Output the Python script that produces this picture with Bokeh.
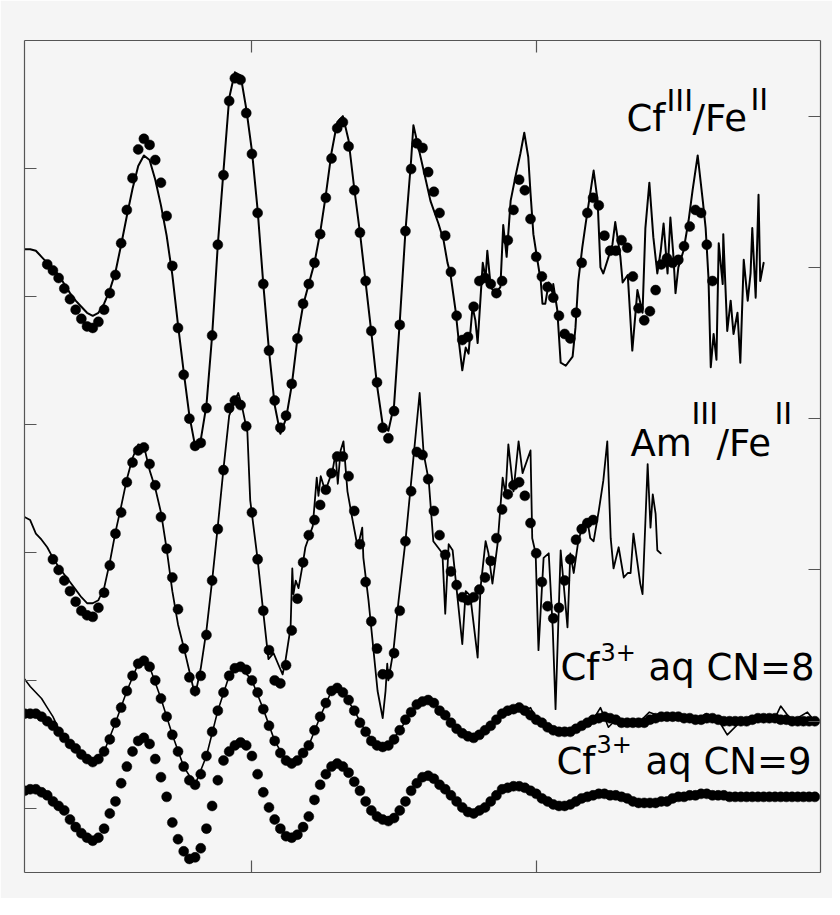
import numpy as np
from bokeh.plotting import figure
from bokeh.models import Range1d, LinearAxis, FixedTicker, Label
from bokeh.embed import file_html
from bokeh.resources import INLINE

# ---------------- data (k in 1/Angstrom, chi*k^3 in arbitrary units) ----------------
K_STEP = 0.1

# Cf(III)/Fe(II): fit (dots) sampled from k = 1.4
CF_FIT_K0 = 1.4
CF_FIT = [0.02, -0.02, -0.07, -0.14, -0.21, -0.28, -0.34, -0.39, -0.40, -0.36,
          -0.28, -0.17, -0.05, 0.16, 0.38, 0.59, 0.78, 0.85, 0.81, 0.71,
          0.56, 0.34, 0.01, -0.40, -0.71, -1.00, -1.18, -1.16, -0.93, -0.45,
          0.15, 0.61, 1.10, 1.25, 1.24, 1.02, 0.75, 0.36, -0.11, -0.55,
          -0.88, -1.06, -0.98, -0.77, -0.47, -0.24, -0.11, 0.03, 0.22, 0.46,
          0.72, 0.92, 0.96, 0.80, 0.51, 0.23, -0.09, -0.42, -0.76, -1.06,
          -1.13, -0.95, -0.38, 0.24, 0.65, 0.82, 0.79, 0.63, 0.50, 0.36,
          0.21, -0.03, -0.32, -0.48, -0.46, -0.26, -0.09, -0.07, -0.11, -0.17,
          -0.09, 0.18, 0.38, 0.58, 0.51, 0.32, 0.07, -0.06, -0.13, -0.20,
          -0.32, -0.44, -0.47, -0.30, 0.03, 0.36, 0.46, 0.41, 0.21, 0.11,
          0.11, 0.18, 0.13, -0.06, -0.27, -0.35, -0.29, -0.15, 0.02, 0.06,
          0.03, 0.05, 0.14, 0.27, 0.38, 0.36, 0.15, -0.09]

# Cf(III)/Fe(II): measured data, smooth part from k = 1.0
CF_DATA_K0 = 1.0
CF_DATA_SMOOTH = [0.12, 0.12, 0.11, 0.07, 0.03, -0.01, -0.05, -0.11, -0.17, -0.22,
                  -0.26, -0.30, -0.32, -0.30, -0.24, -0.15, -0.03, 0.15, 0.34, 0.52,
                  0.67, 0.74, 0.71, 0.58, 0.41, 0.21, -0.05, -0.38, -0.69, -0.98,
                  -1.18, -1.14, -0.91, -0.45, 0.15, 0.64, 1.12, 1.29, 1.27, 1.05,
                  0.77, 0.38, -0.11, -0.55, -0.91, -1.10, -1.00, -0.78, -0.47, -0.25,
                  -0.11, 0.03, 0.23, 0.48, 0.76, 0.96, 1.00, 0.84, 0.52, 0.23,
                  -0.10, -0.43, -0.78, -1.04, -1.08, -0.91, -0.36, 0.24, 0.71]
CF_DATA_NOISY_K = [7.84, 7.93, 8.02, 8.14, 8.28, 8.37, 8.44, 8.49, 8.58, 8.63,
                   8.70, 8.76, 8.81, 8.88, 8.93, 8.97, 9.06, 9.11, 9.14, 9.20,
                   9.28, 9.37, 9.42, 9.48, 9.55, 9.64, 9.72, 9.79, 9.86, 9.90,
                   9.95, 10.02, 10.08, 10.11, 10.16, 10.22, 10.29, 10.30, 10.37, 10.43,
                   10.52, 10.64, 10.69, 10.74, 10.81, 10.87, 11.01, 11.08, 11.13, 11.18,
                   11.34, 11.39, 11.48, 11.52, 11.61, 11.69, 11.78, 11.87, 11.92, 11.99,
                   12.06, 12.13, 12.19, 12.24, 12.31, 12.36, 12.41, 12.45, 12.50, 12.59,
                   12.68, 12.75, 12.84, 12.93, 12.98, 13.03, 13.07, 13.12, 13.17, 13.21,
                   13.28, 13.29, 13.36, 13.42, 13.47, 13.54, 13.59, 13.65, 13.72, 13.77,
                   13.80, 13.86, 13.91, 13.94, 14.00]
CF_DATA_NOISY = [0.94, 0.79, 0.64, 0.44, 0.29, 0.18, 0.03, -0.04, -0.28, -0.46,
                 -0.68, -0.53, -0.57, -0.26, -0.35, -0.50, 0.03, -0.07, 0.11, -0.13,
                 -0.17, -0.13, 0.28, 0.07, 0.44, 0.61, 0.75, 0.89, 0.73, 0.49,
                 0.22, 0.05, -0.09, -0.24, -0.24, -0.10, -0.17, -0.11, -0.28, -0.63,
                 -0.65, -0.59, -0.40, -0.09, 0.13, 0.29, 0.64, 0.44, 0.00, -0.04,
                 0.15, 0.30, 0.07, -0.10, -0.05, -0.55, -0.15, -0.30, 0.26, 0.56,
                 0.20, -0.04, 0.11, 0.29, -0.04, 0.33, 0.09, -0.17, 0.00, 0.11,
                 0.31, 0.51, 0.74, 0.44, 0.26, -0.07, -0.66, -0.44, -0.61, 0.16,
                 -0.11, 0.22, -0.42, -0.22, -0.44, -0.30, -0.63, 0.05, -0.22, -0.04,
                 0.26, -0.20, 0.48, -0.09, 0.03]

# Am(III)/Fe(II): fit from k = 1.5
AM_FIT_K0 = 1.5
AM_FIT = [-0.13, -0.20, -0.27, -0.34, -0.41, -0.47, -0.50, -0.51, -0.45, -0.35,
          -0.17, 0.04, 0.18, 0.38, 0.51, 0.59, 0.61, 0.50, 0.36, 0.15,
          -0.06, -0.25, -0.46, -0.72, -0.91, -1.00, -0.90, -0.63, -0.27, 0.07,
          0.46, 0.87, 0.92, 0.89, 0.75, 0.18, -0.13, -0.47, -0.73, -0.93,
          -0.95, -0.83, -0.60, -0.39, -0.15, 0.03, 0.13, 0.23, 0.33, 0.44,
          0.55, 0.55, 0.42, 0.19, -0.03, -0.28, -0.54, -0.72, -0.89, -0.89,
          -0.75, -0.47, -0.01, 0.32, 0.58, 0.56, 0.40, 0.19, 0.03, -0.10,
          -0.21, -0.30, -0.38, -0.40, -0.38, -0.33, -0.25, -0.14, 0.01, 0.20,
          0.30, 0.36, 0.38, 0.29, 0.11, -0.09, -0.28, -0.44, -0.52, -0.45,
          -0.27, -0.13, 0.00, 0.07, 0.11, 0.13]

# Am(III)/Fe(II): data
AM_DATA_K0 = 1.0
AM_DATA_SMOOTH = [0.15, 0.13, 0.04, 0.00, -0.05, -0.12, -0.18, -0.23, -0.28, -0.33,
                  -0.38, -0.42, -0.42, -0.40, -0.32, -0.15, 0.05, 0.22, 0.40, 0.54,
                  0.63, 0.62, 0.46, 0.34, 0.18, -0.06, -0.34, -0.56, -0.71, -0.87,
                  -1.03, -0.85, -0.60, -0.27, 0.09, 0.47, 0.82, 0.92]
AM_DATA_NOISY_K = [4.76, 4.82, 4.92, 4.97, 5.10, 5.20, 5.29, 5.38, 5.47, 5.54,
                   5.59, 5.68, 5.71, 5.73, 5.77, 5.82, 5.89, 5.94, 6.07, 6.14,
                   6.17, 6.21, 6.29, 6.42, 6.47, 6.51, 6.56, 6.61, 6.68, 6.77,
                   6.86, 6.94, 6.96, 7.05, 7.17, 7.21, 7.30, 7.35, 7.38, 7.40,
                   7.49, 7.58, 7.70, 7.82, 7.95, 8.02, 8.11, 8.19, 8.35, 8.40,
                   8.46, 8.53, 8.70, 8.76, 8.84, 8.97, 9.02, 9.11, 9.16, 9.23,
                   9.32, 9.41, 9.46, 9.51, 9.60, 9.69, 9.76, 9.90, 9.93, 9.99,
                   10.04, 10.13, 10.22, 10.29, 10.34, 10.43, 10.55, 10.60, 10.66, 10.74,
                   10.83, 10.90, 10.95, 11.01, 11.10, 11.18, 11.25, 11.31, 11.36, 11.45,
                   11.54, 11.61, 11.66, 11.71, 11.83, 11.87, 11.96, 12.01, 12.05, 12.10,
                   12.13, 12.19]
AM_DATA_NOISY = [0.97, 0.89, 0.71, 0.26, -0.13, -0.48, -0.79, -0.75, -0.83, -0.89,
                 -0.80, -0.58, -0.19, -0.36, -0.27, -0.32, -0.17, -0.05, 0.09, 0.41,
                 0.29, 0.42, 0.32, 0.46, 0.57, 0.37, 0.59, 0.65, 0.32, 0.13,
                 -0.05, 0.08, -0.12, -0.40, -0.85, -1.00, -1.18, -1.00, -0.82, -0.93,
                 -0.73, -0.40, -0.01, 0.46, 0.97, 0.57, 0.39, -0.01, -0.09, -0.49,
                 -0.03, -0.07, -0.69, -0.34, -0.37, -0.78, -0.32, -0.01, -0.09, -0.29,
                 -0.03, 0.41, 0.30, 0.63, 0.32, 0.65, 0.44, 0.59, 0.01, -0.09,
                 -0.73, -0.12, -0.09, -0.58, -1.12, -0.07, -0.58, -0.09, -0.22, -0.01,
                 0.11, 0.13, 0.01, -0.01, 0.19, 0.39, 0.65, 0.01, -0.19, -0.05,
                 -0.25, -0.22, -0.22, 0.04, -0.29, -0.36, 0.50, 0.08, 0.30, 0.17,
                 -0.07, -0.09]

# Cf3+ aq CN=8: model (dots) from k = 1.0, and data line
CN8_FIT_K0 = 1.0
CN8_FIT = [0.05, 0.05, 0.05, 0.03, 0.00, -0.03, -0.07, -0.11, -0.15, -0.18,
           -0.22, -0.25, -0.27, -0.25, -0.20, -0.12, -0.01, 0.09, 0.20, 0.30,
           0.38, 0.40, 0.36, 0.27, 0.15, 0.03, -0.09, -0.20, -0.30, -0.39,
           -0.42, -0.35, -0.23, -0.07, 0.07, 0.19, 0.30, 0.35, 0.36, 0.34,
           0.27, 0.19, 0.08, -0.03, -0.13, -0.21, -0.26, -0.28, -0.26, -0.21,
           -0.16, -0.06, 0.03, 0.12, 0.20, 0.22, 0.19, 0.14, 0.07, -0.01,
           -0.07, -0.13, -0.16, -0.17, -0.16, -0.12, -0.06, 0.01, 0.06, 0.11,
           0.13, 0.14, 0.12, 0.07, 0.04, -0.01, -0.05, -0.08, -0.10, -0.11,
           -0.09, -0.06, -0.03, 0.01, 0.05, 0.07, 0.08, 0.09, 0.07, 0.04,
           0.01, -0.01, -0.04, -0.06, -0.07, -0.07, -0.07, -0.05, -0.03, -0.01,
           0.01, 0.02, 0.03, 0.02, 0.01, -0.01, -0.01, -0.01, -0.01, -0.01,
           0.01, 0.02, 0.03, 0.03, 0.03, 0.03, 0.02, 0.02, 0.01, 0.01,
           0.02, 0.02, 0.01, 0.00, 0.00, 0.00, 0.00, 0.00, 0.01, 0.02,
           0.02, 0.02, 0.02, 0.01, 0.01, 0.00, 0.00, 0.00, 0.00, 0.00]
CN8_DATA_K = [1.0, 1.1, 1.2, 1.3, 1.4, 1.5, 1.6, 1.8, 2.0, 2.2, 2.4, 2.6, 2.8, 3.0, 3.1, 3.2, 3.4,
              3.6, 3.8, 4.0, 4.2, 4.4, 4.6, 4.8, 5.0, 5.2, 5.4, 5.6, 5.8, 6.0, 6.2, 6.4, 6.6, 6.8,
              7.0, 7.2, 7.4, 7.6, 7.8, 8.0, 8.2, 8.4, 8.6, 8.8, 9.0, 9.2, 9.4, 9.6, 9.8, 9.90, 10.0,
              10.2, 10.4, 10.6, 10.8, 11.0, 11.13, 11.27, 11.4, 11.6, 11.8, 11.99, 12.2, 12.4, 12.6,
              12.8, 12.99, 13.2, 13.36, 13.6, 13.8, 14.0, 14.2, 14.30, 14.5, 14.77, 14.9]
CN8_DATA = [0.28, 0.23, 0.19, 0.15, 0.09, 0.03, -0.05, -0.15, -0.22, -0.27, -0.20, -0.01, 0.20,
            0.38, 0.40, 0.36, 0.15, -0.09, -0.30, -0.42, -0.23, 0.07, 0.30, 0.36, 0.27, 0.08,
            -0.13, -0.26, -0.26, -0.16, 0.03, 0.20, 0.19, 0.07, -0.07, -0.16, -0.16, -0.06, 0.06,
            0.13, 0.12, 0.04, -0.05, -0.10, -0.09, -0.03, 0.05, 0.08, 0.07, 0.09, 0.01, -0.04,
            -0.07, -0.07, -0.03, 0.01, 0.09, -0.04, 0.01, -0.01, -0.01, 0.06, 0.03, 0.03, 0.02,
            0.01, 0.05, 0.01, -0.09, 0.00, 0.01, 0.02, 0.02, 0.10, 0.00, 0.06, 0.00]

# Cf3+ aq CN=9: model (dots) from k = 1.0
CN9_FIT_K0 = 1.0
CN9_FIT = [0.04, 0.05, 0.05, 0.03, 0.01, -0.03, -0.06, -0.09, -0.15, -0.20,
           -0.24, -0.27, -0.29, -0.27, -0.21, -0.11, -0.03, 0.09, 0.20, 0.30,
           0.37, 0.39, 0.35, 0.25, 0.13, 0.00, -0.17, -0.28, -0.36, -0.41,
           -0.40, -0.34, -0.21, -0.06, 0.11, 0.24, 0.30, 0.34, 0.36, 0.34,
           0.27, 0.15, 0.03, -0.07, -0.15, -0.21, -0.26, -0.27, -0.25, -0.20,
           -0.13, -0.02, 0.08, 0.15, 0.20, 0.22, 0.20, 0.16, 0.10, 0.04,
           -0.03, -0.09, -0.13, -0.15, -0.16, -0.14, -0.09, -0.03, 0.04, 0.09,
           0.13, 0.14, 0.12, 0.08, 0.05, 0.01, -0.03, -0.07, -0.10, -0.11,
           -0.09, -0.07, -0.03, 0.01, 0.05, 0.06, 0.07, 0.07, 0.06, 0.04,
           0.02, -0.01, -0.03, -0.05, -0.06, -0.06, -0.05, -0.03, -0.01, 0.00,
           0.01, 0.02, 0.02, 0.01, 0.01, 0.00, -0.01, -0.03, -0.04, -0.04,
           -0.04, -0.04, -0.03, -0.03, -0.01, 0.00, 0.00, 0.01, 0.01, 0.02,
           0.02, 0.01, 0.01, 0.01, 0.00, 0.00, 0.00, 0.00, 0.00, 0.00,
           0.00, 0.00, 0.00, 0.00, 0.00, 0.00, 0.00, 0.00, 0.00, 0.00]

# vertical offsets of the stacked traces
OFFSETS = {"cf": 3.0, "am": 1.2, "cn8": 0.0, "cn9": -0.5}

X_TICKS = [5, 10]
LEFT_TICKS = [1, 2, 3, 4, 5, 6]
RIGHT_TICKS = [0, 1, 2, 3, 4]


def grid(k0, n):
    return np.round(k0 + K_STEP * np.arange(n), 3)


# ---------------- figure ----------------
BG = "#f5f5f5"
AX = "#555555"

p = figure(width=832, height=898, output_backend="svg", toolbar_location=None,
           x_range=Range1d(1, 15), y_range=Range1d(-1, 4.5),
           y_axis_location="right",
           min_border_left=24, min_border_right=12, min_border_top=40, min_border_bottom=26)
p.extra_y_ranges = {"left": Range1d(0.5, 7)}
p.add_layout(LinearAxis(y_range_name="left"), "left")
p.add_layout(LinearAxis(), "above")

p.background_fill_color = BG
p.border_fill_color = BG
p.outline_line_color = None
p.grid.visible = False

for ax in p.axis:
    ax.major_tick_in = 12
    ax.major_tick_out = 0
    ax.minor_tick_line_color = None
    ax.major_label_text_color = None
    ax.major_label_text_font_size = "8px"
    ax.major_label_standoff = 0
    ax.axis_line_color = AX
    ax.axis_line_width = 1.2
    ax.major_tick_line_color = AX
    ax.major_tick_line_width = 1.2

p.below[0].ticker = FixedTicker(ticks=X_TICKS)
p.above[0].ticker = FixedTicker(ticks=X_TICKS)
p.left[0].ticker = FixedTicker(ticks=LEFT_TICKS)
p.right[0].ticker = FixedTicker(ticks=RIGHT_TICKS)

LINE = dict(line_color="black", line_join="round", line_cap="round")
DOT = dict(size=10, fill_color="black", line_color="black", line_width=0.5)

# Cf(III)/Fe(II)
cf_k = np.concatenate([grid(CF_DATA_K0, len(CF_DATA_SMOOTH)), CF_DATA_NOISY_K])
cf_y = np.concatenate([CF_DATA_SMOOTH, CF_DATA_NOISY]) + OFFSETS["cf"]
p.line(cf_k, cf_y, line_width=2, **LINE)
p.scatter(grid(CF_FIT_K0, len(CF_FIT)), np.array(CF_FIT) + OFFSETS["cf"], **DOT)

# Am(III)/Fe(II)
am_k = np.concatenate([grid(AM_DATA_K0, len(AM_DATA_SMOOTH)), AM_DATA_NOISY_K])
am_y = np.concatenate([AM_DATA_SMOOTH, AM_DATA_NOISY]) + OFFSETS["am"]
p.line(am_k, am_y, line_width=1.8, **LINE)
p.scatter(grid(AM_FIT_K0, len(AM_FIT)), np.array(AM_FIT) + OFFSETS["am"], **DOT)

# Cf3+ aq CN=8
p.line(CN8_DATA_K, np.array(CN8_DATA) + OFFSETS["cn8"], line_width=1.6, **LINE)
p.scatter(grid(CN8_FIT_K0, len(CN8_FIT)), np.array(CN8_FIT) + OFFSETS["cn8"], **DOT)

# Cf3+ aq CN=9
p.scatter(grid(CN9_FIT_K0, len(CN9_FIT)), np.array(CN9_FIT) + OFFSETS["cn9"], **DOT)


# ---------------- labels (placed in page pixels of the frame) ----------------
def kx(px):
    return 1 + (px - 24) / 56.857


def yy(py):
    return 4.5 - (py - 40) / 151.27


FONT = "DejaVu Sans"
LIFT = 15  # the label anchor sits this far above the visible baseline
LABELS = [
    ("Cf", 626, 133, 37), ("III", 666, 115, 30), ("/Fe", 692, 133, 37), ("II", 750, 114, 30),
    ("Am", 630, 458, 37), ("III", 691, 428, 30), ("/Fe", 716, 458, 37), ("II", 774, 428, 30),
    ("Cf", 560, 682, 37), ("3+", 600, 666, 24), ("aq CN=8", 648, 682, 37),
    ("Cf", 556, 776, 37), ("3+", 596, 758, 24), ("aq CN=9", 645, 776, 37),
]
for txt, px, py, fs in LABELS:
    p.add_layout(Label(x=kx(px), y=yy(py - LIFT), text=txt, text_font=FONT,
                       text_font_size=f"{fs}px", text_color="black",
                       text_align="left", text_baseline="alphabetic"))

open("out.html", "w").write(file_html(p, INLINE, title="EXAFS"))
